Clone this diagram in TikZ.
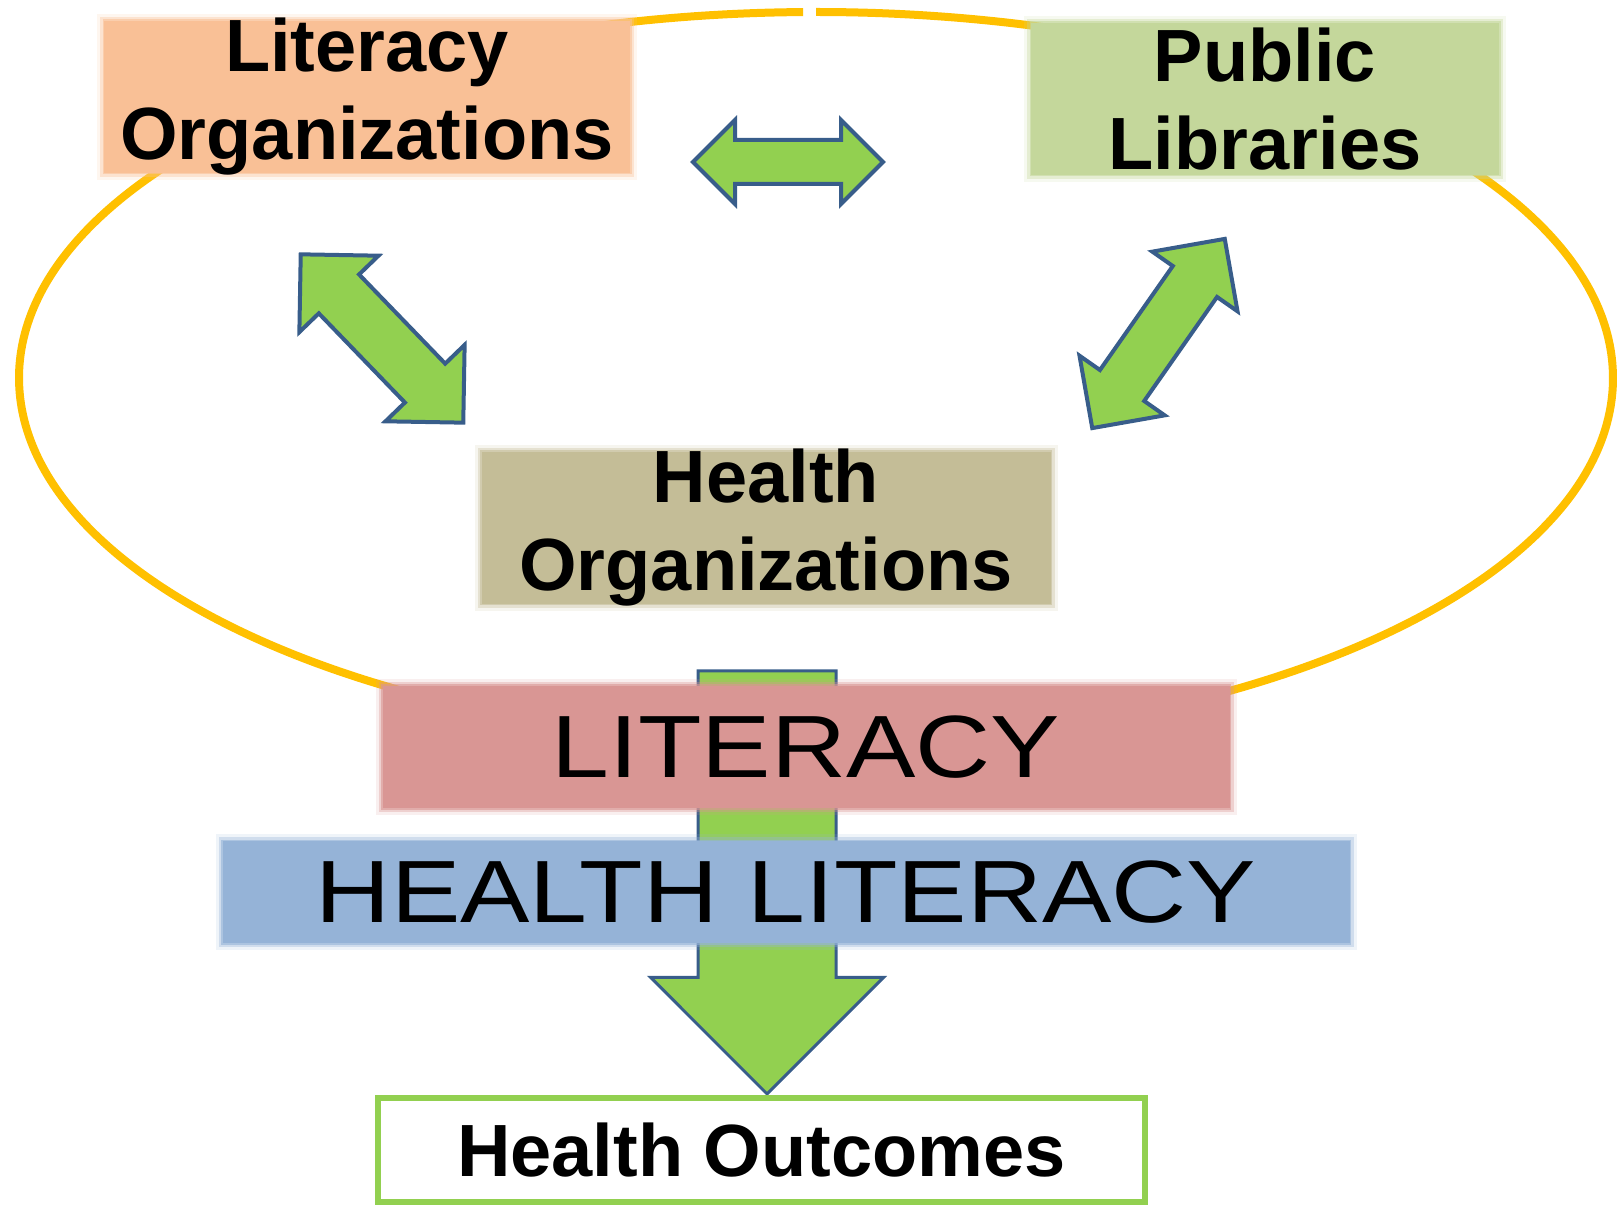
\documentclass[tikz,border=0pt]{standalone}
\usepackage{fontspec}
\setmainfont{Liberation Sans}
\usepackage{graphicx}
\usepackage{tikz}
\usetikzlibrary{positioning}
\usetikzlibrary{shapes.arrows}
\definecolor{litorange}{RGB}{249,192,150}
\definecolor{libgreen}{RGB}{196,215,155}
\definecolor{healthtan}{RGB}{196,189,151}
\definecolor{litred}{RGB}{217,150,148}
\definecolor{hlblue}{RGB}{149,179,215}
\definecolor{arrowgreen}{RGB}{146,208,80}
\definecolor{arrowblue}{RGB}{56,93,138}
\definecolor{ringgold}{RGB}{255,192,0}
\tikzstyle{soft} = [preaction={draw, line width=7pt, draw opacity=0.15}, preaction={draw, line width=4pt, draw opacity=0.35}, draw opacity=0.6, line width=1.5pt]
\tikzstyle{orgbox} = [soft, inner xsep=0pt, inner ysep=-2.75pt, minimum height=76pt, align=center, font=\fontsize{37}{44}\selectfont\bfseries]
\tikzstyle{band} = [soft, inner sep=0pt, font=\fontsize{52}{56}\selectfont]
\tikzstyle{dblarrow} = [double arrow, double arrow tip angle=90, draw=arrowblue, fill=arrowgreen, line width=2pt, inner xsep=0pt]
\tikzstyle{ring} = [draw=ringgold, line width=4pt]

\begin{document}
\begin{tikzpicture}[x=0.5pt,y=-0.5pt]
	\useasboundingbox (0,0) rectangle (1624,1208);

	%Ring
	\coordinate (ringc) at (816,378);
	\draw[ring] (ringc) ++(90.93:398.5pt and 183pt) arc[start angle=90.93, end angle=450, x radius=398.5pt, y radius=183pt];

	%Flow arrow
	\coordinate (outtop) at (767,1096);
	\node[single arrow, single arrow tip angle=90, single arrow head extend=23.75pt, draw=arrowblue, fill=arrowgreen, line width=1.5pt, inner xsep=0pt, inner ysep=33.75pt, minimum height=211.5pt, rotate=-90, anchor=tip] (flow) at (outtop) {};

	%Nodes
	\node[orgbox, fill=litorange, draw=litorange, minimum width=263pt] (litorg) at (367,97) {Literacy\\Organizations};
	\node[orgbox, fill=libgreen, draw=libgreen, minimum width=234pt] (publib) at (1265,99) {Public\\Libraries};
	\node[orgbox, fill=healthtan, draw=healthtan, minimum width=284.5pt] (healthorg) at (766,528) {Health\\Organizations};

	\node[band, fill=litred, draw=litred, minimum width=423.5pt, minimum height=61pt] (literacy) at (806,747) {\scalebox{1}[0.85]{LITERACY}};
	\node[band, fill=hlblue, draw=hlblue, minimum width=563.5pt, minimum height=51pt] (healthlit) at (786,892) {\scalebox{1}[0.85]{HEALTH LITERACY}};

	\node[draw=arrowgreen, line width=3pt, fill=white, minimum width=383.5pt, minimum height=52pt, inner sep=0pt, font=\fontsize{37}{44}\selectfont\bfseries] (outcome) at (761.5,1150) {Health Outcomes};

	%Arrows
	\node[dblarrow, minimum height=95pt, inner ysep=10pt, double arrow head extend=10pt] (litlib) at (788,162) {};
	\node[dblarrow, minimum height=117pt, inner ysep=13pt, double arrow head extend=13.5pt, rotate=-46] (lithealth) at (382,338.5) {};
	\node[dblarrow, minimum height=115.5pt, inner ysep=12.5pt, double arrow head extend=12.5pt, rotate=55] (libhealth) at (1158.5,333.5) {};
\end{tikzpicture}
\end{document}
